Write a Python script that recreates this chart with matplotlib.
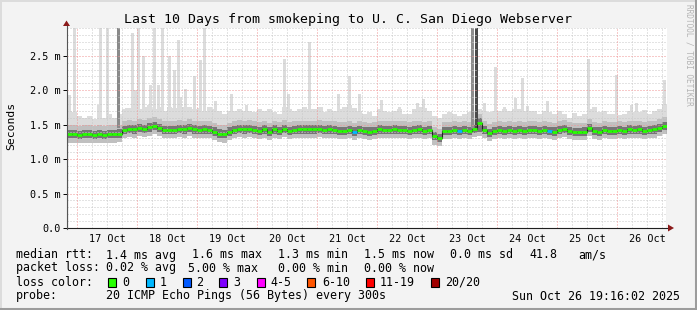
import numpy as np
import matplotlib
matplotlib.use('Agg')
import matplotlib.pyplot as plt
from matplotlib.patches import Rectangle, Polygon
from matplotlib.lines import Line2D

plt.rcParams['font.family'] = ['DejaVu Sans Mono', 'DejaVu Sans']

# 2 hour bins, days counted from 16 Oct 00:00, graph starts 16 Oct 20:00
start_day = 20 / 24
bin_days = 2 / 24

# median rtt per bin (ms)
median = [
    1.36, 1.36, 1.35, 1.36, 1.36, 1.35, 1.36, 1.35, 1.36, 1.36,
    1.37, 1.42, 1.44, 1.43, 1.45, 1.44, 1.46, 1.48, 1.45, 1.42,
    1.42, 1.42, 1.44, 1.43, 1.45, 1.43, 1.42, 1.43, 1.42, 1.40,
    1.37, 1.36, 1.40, 1.42, 1.44, 1.43, 1.44, 1.42, 1.41, 1.43,
    1.40, 1.43, 1.41, 1.44, 1.41, 1.42, 1.43, 1.43, 1.43, 1.43,
    1.44, 1.42, 1.43, 1.42, 1.41, 1.41, 1.42, 1.40, 1.42, 1.41,
    1.40, 1.41, 1.43, 1.42, 1.42, 1.43, 1.42, 1.42, 1.41, 1.42,
    1.43, 1.41, 1.42, 1.33, 1.31, 1.41, 1.41, 1.42, 1.41, 1.42,
    1.41, 1.44, 1.52, 1.42, 1.38, 1.41, 1.42, 1.41, 1.42, 1.41,
    1.42, 1.41, 1.42, 1.42, 1.41, 1.42, 1.41, 1.40, 1.42, 1.44,
    1.41, 1.39, 1.39, 1.40, 1.45, 1.41, 1.40, 1.42, 1.41, 1.41,
    1.42, 1.41, 1.43, 1.42, 1.43, 1.41, 1.42, 1.43, 1.45, 1.48]

# inner (dark) smoke band
q_high = [
    1.42, 1.42, 1.41, 1.42, 1.42, 1.41, 1.42, 1.41, 1.42, 1.42,
    1.43, 1.48, 1.50, 1.49, 1.51, 1.50, 1.52, 1.54, 1.51, 1.48,
    1.48, 1.48, 1.50, 1.49, 1.51, 1.49, 1.48, 1.49, 1.48, 1.46,
    1.43, 1.42, 1.46, 1.48, 1.50, 1.49, 1.50, 1.48, 1.47, 1.49,
    1.46, 1.49, 1.47, 1.50, 1.47, 1.48, 1.49, 1.49, 1.49, 1.49,
    1.50, 1.48, 1.49, 1.48, 1.47, 1.47, 1.48, 1.46, 1.48, 1.47,
    1.46, 1.47, 1.49, 1.48, 1.48, 1.49, 1.48, 1.48, 1.47, 1.48,
    1.49, 1.47, 1.48, 1.39, 1.37, 1.47, 1.47, 1.48, 1.47, 1.48,
    1.47, 1.50, 1.60, 1.48, 1.44, 1.47, 1.48, 1.47, 1.48, 1.47,
    1.48, 1.47, 1.48, 1.48, 1.47, 1.48, 1.47, 1.46, 1.48, 1.50,
    1.47, 1.45, 1.45, 1.46, 1.51, 1.47, 1.46, 1.48, 1.47, 1.47,
    1.48, 1.47, 1.49, 1.48, 1.49, 1.47, 1.48, 1.49, 1.51, 1.54]
q_low = [
    1.30, 1.30, 1.29, 1.30, 1.30, 1.29, 1.30, 1.29, 1.30, 1.30,
    1.31, 1.36, 1.38, 1.37, 1.39, 1.38, 1.40, 1.42, 1.39, 1.36,
    1.36, 1.36, 1.38, 1.37, 1.39, 1.37, 1.36, 1.37, 1.36, 1.34,
    1.31, 1.30, 1.34, 1.36, 1.38, 1.37, 1.38, 1.36, 1.35, 1.37,
    1.34, 1.37, 1.35, 1.38, 1.35, 1.36, 1.37, 1.37, 1.37, 1.37,
    1.38, 1.36, 1.37, 1.36, 1.35, 1.35, 1.36, 1.34, 1.36, 1.35,
    1.34, 1.35, 1.37, 1.36, 1.36, 1.37, 1.36, 1.36, 1.35, 1.36,
    1.37, 1.35, 1.36, 1.27, 1.25, 1.35, 1.35, 1.36, 1.35, 1.36,
    1.35, 1.38, 1.40, 1.36, 1.32, 1.35, 1.36, 1.35, 1.36, 1.35,
    1.36, 1.35, 1.36, 1.36, 1.35, 1.36, 1.35, 1.34, 1.36, 1.38,
    1.35, 1.33, 1.33, 1.34, 1.39, 1.35, 1.34, 1.36, 1.35, 1.35,
    1.36, 1.35, 1.37, 1.36, 1.37, 1.35, 1.36, 1.37, 1.39, 1.42]

# outer smoke: lowest ping, upper medium band, usual highest ping
ping_min = [
    1.24, 1.24, 1.23, 1.24, 1.24, 1.23, 1.24, 1.23, 1.24, 1.24,
    1.25, 1.30, 1.32, 1.31, 1.33, 1.32, 1.34, 1.36, 1.33, 1.30,
    1.30, 1.30, 1.32, 1.31, 1.33, 1.31, 1.30, 1.31, 1.30, 1.28,
    1.25, 1.24, 1.28, 1.30, 1.32, 1.31, 1.32, 1.30, 1.29, 1.31,
    1.28, 1.31, 1.29, 1.32, 1.29, 1.30, 1.31, 1.31, 1.31, 1.31,
    1.32, 1.30, 1.31, 1.30, 1.29, 1.29, 1.30, 1.28, 1.30, 1.29,
    1.28, 1.29, 1.31, 1.30, 1.30, 1.31, 1.30, 1.30, 1.29, 1.30,
    1.31, 1.29, 1.30, 1.21, 1.19, 1.29, 1.29, 1.30, 1.29, 1.30,
    1.29, 1.32, 1.34, 1.30, 1.26, 1.29, 1.30, 1.29, 1.30, 1.29,
    1.30, 1.29, 1.30, 1.30, 1.29, 1.30, 1.29, 1.28, 1.30, 1.32,
    1.29, 1.27, 1.27, 1.28, 1.33, 1.29, 1.28, 1.30, 1.29, 1.29,
    1.30, 1.29, 1.31, 1.30, 1.31, 1.29, 1.30, 1.31, 1.33, 1.36]
ping_hi = [
    1.49, 1.49, 1.48, 1.49, 1.49, 1.48, 1.49, 1.48, 1.49, 1.49,
    1.50, 1.55, 1.57, 1.56, 1.58, 1.57, 1.59, 1.61, 1.58, 1.55,
    1.55, 1.55, 1.57, 1.56, 1.58, 1.56, 1.55, 1.56, 1.55, 1.53,
    1.50, 1.49, 1.53, 1.55, 1.57, 1.56, 1.57, 1.55, 1.54, 1.56,
    1.53, 1.56, 1.54, 1.57, 1.54, 1.55, 1.56, 1.56, 1.56, 1.56,
    1.57, 1.55, 1.56, 1.55, 1.54, 1.54, 1.55, 1.53, 1.55, 1.54,
    1.53, 1.54, 1.56, 1.55, 1.55, 1.56, 1.55, 1.55, 1.54, 1.55,
    1.56, 1.54, 1.55, 1.46, 1.44, 1.54, 1.54, 1.55, 1.54, 1.55,
    1.54, 1.57, 1.65, 1.55, 1.51, 1.54, 1.55, 1.54, 1.55, 1.54,
    1.55, 1.54, 1.55, 1.55, 1.54, 1.55, 1.54, 1.53, 1.55, 1.57,
    1.54, 1.52, 1.52, 1.53, 1.58, 1.54, 1.53, 1.55, 1.54, 1.54,
    1.55, 1.54, 1.56, 1.55, 1.56, 1.54, 1.55, 1.56, 1.58, 1.61]
ping_max = [
    1.70, 1.68, 1.62, 1.60, 1.63, 1.58, 1.66, 1.60, 1.65, 1.60,
    1.66, 1.72, 1.74, 1.70, 1.72, 1.75, 1.78, 1.72, 1.75, 1.70,
    1.75, 1.74, 1.72, 1.75, 1.75, 1.72, 1.74, 1.70, 1.75, 1.72,
    1.70, 1.65, 1.70, 1.70, 1.72, 1.70, 1.70, 1.68, 1.72, 1.70,
    1.72, 1.68, 1.66, 1.75, 1.72, 1.70, 1.72, 1.75, 1.72, 1.72,
    1.75, 1.68, 1.72, 1.70, 1.72, 1.75, 1.78, 1.74, 1.70, 1.65,
    1.68, 1.63, 1.72, 1.70, 1.68, 1.70, 1.72, 1.66, 1.65, 1.72,
    1.75, 1.74, 1.70, 1.62, 1.60, 1.65, 1.68, 1.65, 1.62, 1.66,
    1.68, 1.70, 1.72, 1.70, 1.68, 1.70, 1.70, 1.72, 1.70, 1.72,
    1.72, 1.70, 1.70, 1.70, 1.66, 1.70, 1.68, 1.66, 1.70, 1.65,
    1.60, 1.67, 1.62, 1.66, 1.72, 1.75, 1.68, 1.70, 1.65, 1.66,
    1.64, 1.66, 1.70, 1.68, 1.68, 1.71, 1.65, 1.70, 1.72, 1.80]

# single slow pings (day, highest ping in ms)
spike_day = [0.875, 0.958, 1.350, 1.392, 1.508, 1.833, 1.917, 1.967, 2.033, 2.108,
             2.217, 2.292, 2.358, 2.425, 2.542, 2.617, 2.692, 2.733, 2.800, 2.958,
             3.058, 3.117, 3.308, 3.575, 3.825, 4.208, 4.458, 4.517, 4.883, 5.075,
             5.358, 5.550, 5.700, 6.075, 6.383, 6.667, 6.775, 7.800, 7.967, 8.133,
             8.300, 8.425, 8.508, 8.842, 9.525, 9.992, 10.242, 10.333, 10.792]
spike_top = [1.93, 2.93, 1.79, 2.93, 2.93, 1.74, 2.83, 2.00, 2.93, 2.50,
             2.08, 2.93, 2.08, 2.93, 2.50, 2.30, 2.73, 1.90, 2.02, 2.20,
             2.44, 2.93, 1.85, 1.95, 1.78, 1.72, 2.45, 1.95, 2.70, 1.75,
             1.95, 2.20, 1.95, 1.86, 1.75, 1.82, 1.87, 1.81, 2.34, 1.75,
             1.88, 2.18, 1.77, 1.84, 2.46, 2.22, 1.78, 1.81, 2.15]

# bursts where many pings were slow
burst_day = [1.700, 7.592, 7.658]
burst_top = [2.93, 2.93, 2.93]

# bins where 1 of 20 pings was lost
loss_bins = [57, 78, 96]

loss_labels = ['0', '1', '2', '3', '4-5', '6-10', '11-19', '20/20']
loss_colors = ['#26ff00', '#00b8ff', '#0059ff', '#7e00ff',
               '#ff00ff', '#ff5500', '#ff0000', '#a10000']
day_labels = ['17 Oct', '18 Oct', '19 Oct', '20 Oct', '21 Oct',
              '22 Oct', '23 Oct', '24 Oct', '25 Oct', '26 Oct']
y_ticks = [0.0, 0.5, 1.0, 1.5, 2.0, 2.5]
y_tick_labels = ['0.0', '0.5 m', '1.0 m', '1.5 m', '2.0 m', '2.5 m']

W, H = 697, 310


def fx(x):
    return x / W


def fy(y):
    return 1 - y / H


fig = plt.figure(figsize=(W / 100, H / 100), dpi=100, facecolor='#f3f3f3')

# 3d frame around the image
fig.add_artist(Line2D([0, 1], [fy(0.7), fy(0.7)], transform=fig.transFigure, color='#dcdcdc', lw=1.4))
fig.add_artist(Line2D([fx(0.7), fx(0.7)], [0, 1], transform=fig.transFigure, color='#dcdcdc', lw=1.4))
fig.add_artist(Line2D([0, 1], [fy(308.5), fy(308.5)], transform=fig.transFigure, color='#9c9c9c', lw=2.2))
fig.add_artist(Line2D([fx(695.5), fx(695.5)], [0, 1], transform=fig.transFigure, color='#9c9c9c', lw=2.2))

ax = fig.add_axes([fx(67), fy(228), 600 / W, 200 / H])
ax.set_facecolor('white')
for s in ax.spines.values():
    s.set_visible(False)

edges = start_day + bin_days * np.arange(len(median) + 1)
x_lo, x_hi = edges[0], edges[-1]
ax.set_xlim(x_lo, x_hi)
ax.set_ylim(0, 200 / 68.9)

# smoke
px_day = 1 / 60
ax.bar(spike_day, np.array(spike_top) - 1.45, bottom=1.45, width=3 * px_day,
       color='#dcdcdc', lw=0, zorder=1)
ax.stairs(ping_max, edges, baseline=ping_min, fill=True, color='#dcdcdc', lw=0, zorder=1)
ax.stairs(ping_hi, edges, baseline=ping_min, fill=True, color='#c0c0c0', lw=0, zorder=2)
ax.stairs(q_high, edges, baseline=q_low, fill=True, color='#767676', lw=0, zorder=3)
ax.bar(burst_day, np.array(burst_top) - 1.45, bottom=1.45, width=3 * px_day,
       color=['#8a8a8a', '#8e8e8e', '#4a4a4a'], lw=0, zorder=3.5)

# grid
minor_x = np.arange(np.ceil(x_lo * 4) / 4, x_hi, 0.25)
minor_x = [v for v in minor_x if abs(v - round(v)) > 1e-6]
major_x = np.arange(np.ceil(x_lo), x_hi, 1.0)
minor_y = [v / 10 for v in range(1, 30) if v % 5 != 0]
major_y = [0.5, 1.0, 1.5, 2.0, 2.5]
dots = (0, (1, 2))
ax.vlines(minor_x, 0, 1, transform=ax.get_xaxis_transform(), colors='#c8c8c8',
          lw=0.72, linestyles=dots, zorder=4)
ax.hlines(minor_y, 0, 1, transform=ax.get_yaxis_transform(), colors='#c8c8c8',
          lw=0.72, linestyles=dots, zorder=4)
ax.vlines(major_x, 0, 1, transform=ax.get_xaxis_transform(), colors='#f09494',
          lw=0.72, linestyles=dots, zorder=4)
ax.hlines(major_y, 0, 1, transform=ax.get_yaxis_transform(), colors='#f09494',
          lw=0.72, linestyles=dots, zorder=4)

# median line coloured by loss
ax.stairs(median, edges, color='#202020', lw=0.8, zorder=5)
seg_colors = [loss_colors[1] if i in loss_bins else loss_colors[0] for i in range(len(median))]
ax.hlines(median, edges[:-1], edges[1:], colors=seg_colors, lw=2.0, zorder=6)

# ticks
ax.set_xticks(np.arange(1.5, 11, 1.0))
ax.set_xticklabels(day_labels)
ax.set_yticks(y_ticks)
ax.set_yticklabels(y_tick_labels)
ax.tick_params(axis='x', length=0, pad=4.5, labelsize=7.3)
ax.tick_params(axis='y', length=3, width=0.7, pad=1.6, labelsize=7.3, color='black')

# axis lines with arrows
axis_col = '#202020'
fig.add_artist(Line2D([fx(66.5), fx(669)], [fy(228), fy(228)], transform=fig.transFigure, color=axis_col, lw=0.8, zorder=10))
fig.add_artist(Line2D([fx(66.5), fx(66.5)], [fy(228.5), fy(24)], transform=fig.transFigure, color='#555555', lw=0.8, zorder=10))
fig.add_artist(Polygon([(fx(668), fy(224.5)), (fx(668), fy(231.5)), (fx(674), fy(228))],
                       closed=True, transform=fig.transFigure, color='#8b1a1a', lw=0, zorder=11))
fig.add_artist(Polygon([(fx(63), fy(26)), (fx(70), fy(26)), (fx(66.5), fy(20.5))],
                       closed=True, transform=fig.transFigure, color='#8b1a1a', lw=0, zorder=11))

# titles
fig.text(fx(348), fy(19), 'Last 10 Days from smokeping to U. C. San Diego Webserver',
         ha='center', va='center', fontsize=9.5)
fig.text(fx(11), fy(126), 'Seconds', rotation=90, ha='center', va='center', fontsize=8.2)
fig.text(fx(689), fy(4), 'RRDTOOL / TOBI OETIKER', rotation=270, ha='center', va='top',
         fontsize=5.6, color='#b4b4b4')

# legend rows
fs = 8.4
rows = [
    (255, [(16, 'median rtt:'), (107, '1.4 ms avg'), (193, '1.6 ms max'), (278, '1.3 ms min'),
           (365, '1.5 ms now'), (451, '0.0 ms sd'), (530, '41.8'), (579, 'am/s')]),
    (268, [(16, 'packet loss:'), (107, '0.02 % avg'), (189, '5.00 % max'), (278, '0.00 % min'),
           (365, '0.00 % now')]),
    (282, [(16, 'loss color:')]),
    (296, [(16, 'probe:'), (107, '20 ICMP Echo Pings (56 Bytes) every 300s'),
           (513, 'Sun Oct 26 19:16:02 2025')]),
]
for y, items in rows:
    for x, s in items:
        fig.text(fx(x - 0.5), fy(y), s, ha='left', va='center', fontsize=fs)

box_x = [108, 146, 183, 219, 257, 307, 366, 431]
label_x = [122, 160, 196, 233, 270, 322, 380, 445]
for bx, lx, col, lab in zip(box_x, label_x, loss_colors, loss_labels):
    fig.add_artist(Rectangle((fx(bx), fy(287)), 8 / W, 9 / H, transform=fig.transFigure,
                             facecolor=col, edgecolor='black', lw=0.8))
    fig.text(fx(lx), fy(282), lab, ha='left', va='center', fontsize=fs)

fig.savefig('out.png', dpi=100, facecolor=fig.get_facecolor())
